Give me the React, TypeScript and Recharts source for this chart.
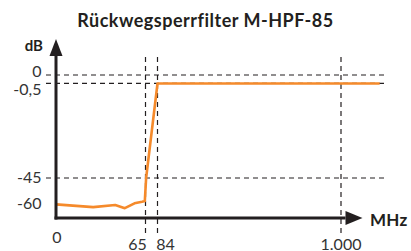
import React from "react";
import { LineChart, Line, XAxis, YAxis, ReferenceLine } from "recharts";

// ---- data ----
const freqMHz = [0, 27, 43, 50, 57, 62.5, 64.5, 66, 84, 1180];
const attenuationDb = [-60.2, -61.8, -60.6, -62.4, -59.6, -58.7, -58.3, -45, -0.6, -0.6];
const xTickValues = [0, 65, 84, 1000];
const yTickValues = [0, -0.5, -45, -60];
const hGuideValues = [0, -0.5, -45];
const vGuideValues = [65, 84, 1000];

const data = freqMHz.map((f, i) => ({ f, db: attenuationDb[i] }));

// ---- schematic (piecewise) scale layout: [value, pixel] ----
type Knot = [number, number];
const xKnots: Knot[] = [[-10, 46], [0, 56], [65, 145.5], [84, 157.5], [1000, 341], [1200, 384]];
const yKnots: Knot[] = [[-76, 233], [-68, 218], [-60, 204], [-45, 178], [-0.5, 83.3], [0, 75], [6, 54], [10, 39]];

function knotScale(knots: Knot[]): any {
  const vals = knots.map((k) => k[0]);
  const pix = knots.map((k) => k[1]);
  const p0 = pix[0];
  const pN = pix[pix.length - 1];
  const fr = pix.map((p) => (p - p0) / (pN - p0));
  let dom: any[] = [vals[0], vals[vals.length - 1]];
  let rng: number[] = [0, 1];
  const toFrac = (v: number) => {
    const n = vals.length;
    let i = 0;
    if (v <= vals[0]) i = 0;
    else if (v >= vals[n - 1]) i = n - 2;
    else {
      while (i < n - 2 && v > vals[i + 1]) i++;
    }
    const t = (v - vals[i]) / (vals[i + 1] - vals[i]);
    return fr[i] + t * (fr[i + 1] - fr[i]);
  };
  const fromFrac = (f: number) => {
    const n = fr.length;
    let i = 0;
    while (i < n - 2 && f > fr[i + 1]) i++;
    const t = (f - fr[i]) / (fr[i + 1] - fr[i]);
    return vals[i] + t * (vals[i + 1] - vals[i]);
  };
  const s: any = (v: any) => rng[0] + toFrac(Number(v)) * (rng[1] - rng[0]);
  s.domain = (d?: any) => {
    if (d === undefined) return dom.slice();
    dom = [...d];
    return s;
  };
  s.range = (r?: any) => {
    if (r === undefined) return rng.slice();
    rng = [...r];
    return s;
  };
  s.invert = (p: number) => fromFrac((p - rng[0]) / (rng[1] - rng[0]));
  s.copy = () => {
    const c = knotScale(knots);
    c.domain(dom);
    c.range(rng);
    return c;
  };
  s.ticks = () => vals.slice();
  s.tickFormat = () => (v: any) => String(v);
  s.nice = () => s;
  s.clamp = () => s;
  return s;
}

const xScale = knotScale(xKnots);
const yScale = knotScale(yKnots);

const FONT = "Lato, 'Open Sans', sans-serif";
const INK = "#231f20";
const ORANGE = "#f58a2b";

const fmtX = (v: number) => (v >= 1000 ? `${Math.floor(v / 1000)}.${String(v % 1000).padStart(3, "0")}` : String(v));
const fmtY = (v: number) => String(v).replace(".", ",");

const xTickStyle: Record<string, { dx: number; y: number }> = {
  "0": { dx: 1, y: 243 },
  "65": { dx: -8, y: 250 },
  "84": { dx: 8, y: 250 },
  "1000": { dx: 0, y: 250 },
};
const yTickStyle: Record<string, number> = { "0": 2, "-0.5": 11.5, "-45": 5, "-60": 5 };

const XTick = (props: any) => {
  const { x, payload } = props;
  const st = xTickStyle[String(payload.value)] || { dx: 0, y: 250 };
  return (
    <text x={x + st.dx} y={st.y} textAnchor="middle" fontFamily={FONT} fontSize={16} fill="#333">
      {fmtX(payload.value)}
    </text>
  );
};

const YTick = (props: any) => {
  const { y, payload } = props;
  const dy = yTickStyle[String(payload.value)] ?? 5;
  return (
    <text x={41.5} y={y + dy} textAnchor="end" fontFamily={FONT} fontSize={16} fill="#333">
      {fmtY(payload.value)}
    </text>
  );
};

const YArrow = (props: any) => {
  const { x1, y1, x2, y2 } = props;
  const head = 17;
  return (
    <g>
      <line x1={x1} y1={y1 + 1.5} x2={x2} y2={y2 + head} stroke={INK} strokeWidth={3} />
      <polygon points={`${x2},${y2} ${x2 - 6.5},${y2 + head} ${x2 + 6.5},${y2 + head}`} fill={INK} />
    </g>
  );
};

const XArrow = (props: any) => {
  const { x1, y1, x2, y2 } = props;
  const head = 17;
  return (
    <g>
      <line x1={x1 - 1.5} y1={y1} x2={x2 - head} y2={y2} stroke={INK} strokeWidth={3} />
      <polygon points={`${x2},${y2} ${x2 - head},${y2 - 7} ${x2 - head},${y2 + 7}`} fill={INK} />
    </g>
  );
};

export default function App() {
  return (
    <div style={{ position: "absolute", left: 0, top: 0, width: 411, height: 251, background: "#fff" }}>
      <LineChart width={411} height={251} data={data} margin={{ top: 39, right: 27, bottom: 17, left: 45 }}>
        <XAxis
          dataKey="f"
          type="number"
          scale={xScale}
          domain={[xKnots[0][0], xKnots[xKnots.length - 1][0]]}
          ticks={xTickValues}
          interval={0}
          height={1}
          axisLine={false}
          tickLine={false}
          tickSize={0}
          tickMargin={0}
          tick={<XTick />}
          allowDataOverflow
        />
        <YAxis
          type="number"
          scale={yScale}
          domain={[yKnots[0][0], yKnots[yKnots.length - 1][0]]}
          ticks={yTickValues}
          interval={0}
          width={1}
          axisLine={false}
          tickLine={false}
          tickSize={0}
          tickMargin={0}
          tick={<YTick />}
          allowDataOverflow
        />
        {hGuideValues.map((v) => (
          <ReferenceLine key={`h${v}`} y={v} stroke={INK} strokeWidth={1.2} strokeDasharray="5 4" ifOverflow="visible" />
        ))}
        {vGuideValues.map((v) => (
          <ReferenceLine
            key={`v${v}`}
            segment={[{ x: v, y: -76 }, { x: v, y: 6 }]}
            stroke={INK}
            strokeWidth={1.2}
            strokeDasharray="5 4"
            ifOverflow="visible"
          />
        ))}
        <Line
          dataKey="db"
          stroke={ORANGE}
          strokeWidth={2.6}
          dot={false}
          activeDot={false}
          isAnimationActive={false}
          strokeLinejoin="round"
        />
        <ReferenceLine segment={[{ x: 0, y: -68 }, { x: 0, y: 10 }]} ifOverflow="visible" shape={<YArrow />} />
        <ReferenceLine segment={[{ x: 0, y: -68 }, { x: 1100, y: -68 }]} ifOverflow="visible" shape={<XArrow />} />
        <text x={205.5} y={27} textAnchor="middle" fontFamily={FONT} fontWeight={700} fontSize={18} letterSpacing={0.5} fill={INK}>
          Rückwegsperrfilter M-HPF-85
        </text>
        <text x={43} y={51} textAnchor="end" fontFamily={FONT} fontWeight={700} fontSize={15} fill={INK}>
          dB
        </text>
        <text x={370} y={226} textAnchor="start" fontFamily={FONT} fontWeight={700} fontSize={17} letterSpacing={0.3} fill={INK}>
          MHz
        </text>
      </LineChart>
    </div>
  );
}
